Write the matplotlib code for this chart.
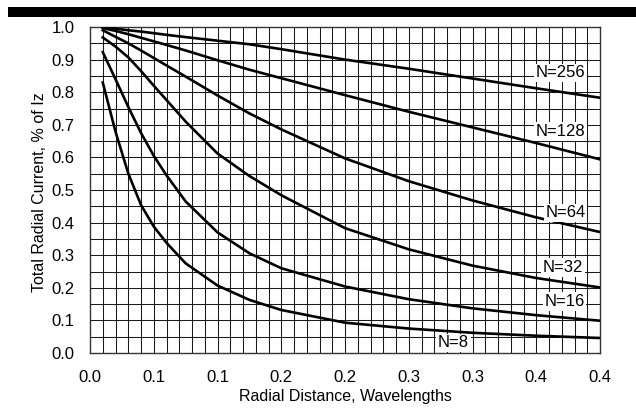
import matplotlib.pyplot as plt
from matplotlib.patches import Rectangle

plt.rcParams['font.family'] = ['Liberation Sans', 'DejaVu Sans']

# radial distance in wavelengths
dist = [0.01, 0.02, 0.03, 0.04, 0.05, 0.06, 0.075, 0.1, 0.125, 0.15, 0.2, 0.25, 0.3, 0.35, 0.4]

# fraction of base current still flowing in the radials
n256 = [1.0, 0.995, 0.99, 0.986, 0.981, 0.976, 0.969, 0.958, 0.947, 0.932, 0.90, 0.872, 0.842, 0.812, 0.783]
n128 = [0.997, 0.988, 0.978, 0.967, 0.956, 0.945, 0.928, 0.898, 0.869, 0.843, 0.791, 0.740, 0.692, 0.644, 0.594]
n64 = [0.99, 0.97, 0.95, 0.928, 0.905, 0.882, 0.848, 0.79, 0.735, 0.686, 0.597, 0.527, 0.468, 0.416, 0.371]
n32 = [0.968, 0.94, 0.907, 0.865, 0.82, 0.776, 0.71, 0.612, 0.543, 0.484, 0.383, 0.318, 0.268, 0.23, 0.201]
n16 = [0.923, 0.84, 0.755, 0.675, 0.605, 0.545, 0.465, 0.37, 0.306, 0.26, 0.204, 0.165, 0.137, 0.116, 0.099]
n8 = [0.83, 0.679, 0.551, 0.454, 0.388, 0.338, 0.275, 0.207, 0.163, 0.132, 0.093, 0.075, 0.062, 0.053, 0.046]

series = [n256, n128, n64, n32, n16, n8]
names = ['N=256', 'N=128', 'N=64', 'N=32', 'N=16', 'N=8']
# where each curve name sits (x, y)
label_pos = [(0.369, 0.859), (0.369, 0.679), (0.373, 0.43), (0.371, 0.262), (0.372, 0.158), (0.285, 0.031)]

xticks = [0.0, 0.05, 0.1, 0.15, 0.2, 0.25, 0.3, 0.35, 0.4]
xticklabels = ['0.0', '0.1', '0.1', '0.2', '0.2', '0.3', '0.3', '0.4', '0.4']
yticks = [0.0, 0.1, 0.2, 0.3, 0.4, 0.5, 0.6, 0.7, 0.8, 0.9, 1.0]

fig = plt.figure(figsize=(6.36, 4.09), dpi=100)
ax = fig.add_axes([90/636, 56/409, 510/636, 326/409])

# heavy rule across the top
fig.add_artist(Rectangle((8/636, 1 - 17/409), 1, 10/409, transform=fig.transFigure,
                         facecolor='black', edgecolor='none'))

# graph-paper grid
for i in range(1, 40):
    ax.axvline(i * 0.01, color='#1a1a1a', lw=0.75, zorder=1)
for i in range(1, 20):
    ax.axhline(i * 0.05, color='#1a1a1a', lw=0.75, zorder=1)

for vals in series:
    ax.plot(dist, vals, color='black', lw=1.9, zorder=3, solid_joinstyle='round')

for name, (lx, ly) in zip(names, label_pos):
    ax.text(lx, ly, name, ha='center', va='center', fontsize=12, zorder=4,
            bbox=dict(boxstyle='square,pad=0.1', facecolor='white', edgecolor='none'))

ax.set_xlim(0, 0.4)
ax.set_ylim(0, 1.0)
ax.set_xticks(xticks)
ax.set_xticklabels(xticklabels)
ax.set_yticks(yticks)
ax.set_yticklabels([f'{v:.1f}' for v in yticks])
ax.tick_params(length=0, labelsize=12)
ax.tick_params(axis='x', pad=12)
ax.tick_params(axis='y', pad=11)
for s in ax.spines.values():
    s.set_color('#333333')
    s.set_linewidth(1.0)

fig.text(345/636, 1 - 397/409, 'Radial Distance, Wavelengths', ha='center', va='center', fontsize=11.5)
fig.text(40/636, 1 - 192/409, 'Total Radial Current, % of Iz', ha='center', va='center',
         rotation=90, fontsize=11.5)

fig.savefig('out.png', dpi=100)
